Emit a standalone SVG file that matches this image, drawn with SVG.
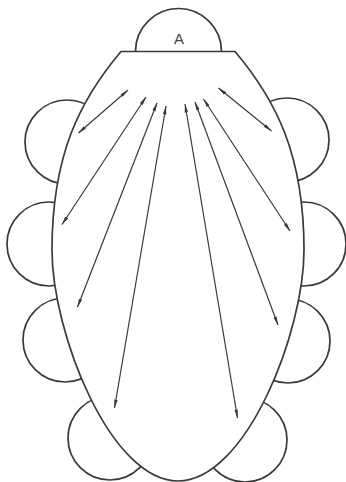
<svg xmlns="http://www.w3.org/2000/svg" width="346" height="482" viewBox="0 0 346 482">
<style>
.lobe{fill:#fff;stroke:#3a3a3a;stroke-width:1.7}
.body{fill:#fff;stroke:#3a3a3a;stroke-width:1.7;stroke-linejoin:miter}
.arr{fill:none;stroke:#3a3a3a;stroke-width:1.2;marker-start:url(#ah);marker-end:url(#ah)}
.lbl{font-family:"Liberation Sans",Arial,sans-serif;font-size:15px;fill:#444;text-anchor:middle}
</style>
<defs>
<marker id="ah" viewBox="0 0 9 4" refX="8.5" refY="2" markerWidth="9" markerHeight="4" markerUnits="userSpaceOnUse" orient="auto-start-reverse">
<path d="M0,0.3 L9,2 L0,3.7 Z" fill="#3a3a3a"/>
</marker>
</defs>
<rect width="346" height="482" fill="#fff"/>
<g id="nodeA"><circle class="lobe" cx="178.5" cy="51.5" r="43"/></g>
<g id="lobe-l1"><circle class="lobe" cx="67" cy="142" r="42"/></g>
<g id="lobe-l2"><circle class="lobe" cx="49" cy="244" r="42"/></g>
<g id="lobe-l3"><circle class="lobe" cx="65" cy="340" r="42"/></g>
<g id="lobe-l4"><circle class="lobe" cx="110" cy="438" r="42"/></g>
<g id="lobe-r1"><circle class="lobe" cx="287" cy="140" r="42"/></g>
<g id="lobe-r2"><circle class="lobe" cx="304" cy="244" r="42"/></g>
<g id="lobe-r3"><circle class="lobe" cx="288" cy="341" r="42"/></g>
<g id="lobe-r4"><circle class="lobe" cx="245" cy="440" r="42"/></g>
<g id="body"><path class="body" d="M121,51.5 C80,100 52,155 52,250 C52,332 110,481 178,481 C246,481 304,332 304,250 C304,155 276,100 235,51.5 Z"/></g>
<g id="labelA"><text class="lbl" x="179" y="43.5">A</text></g>
<g id="connectors">
<line class="arr" x1="128" y1="90" x2="78.5" y2="133"/>
<line class="arr" x1="146" y1="97" x2="62" y2="224.5"/>
<line class="arr" x1="157" y1="103" x2="77.5" y2="307"/>
<line class="arr" x1="166" y1="106" x2="114.5" y2="408"/>
<line class="arr" x1="185" y1="104" x2="237.5" y2="418"/>
<line class="arr" x1="195" y1="102" x2="278" y2="325"/>
<line class="arr" x1="203.5" y1="99" x2="290" y2="231"/>
<line class="arr" x1="218.5" y1="88" x2="271.5" y2="131"/>
</g>
</svg>
